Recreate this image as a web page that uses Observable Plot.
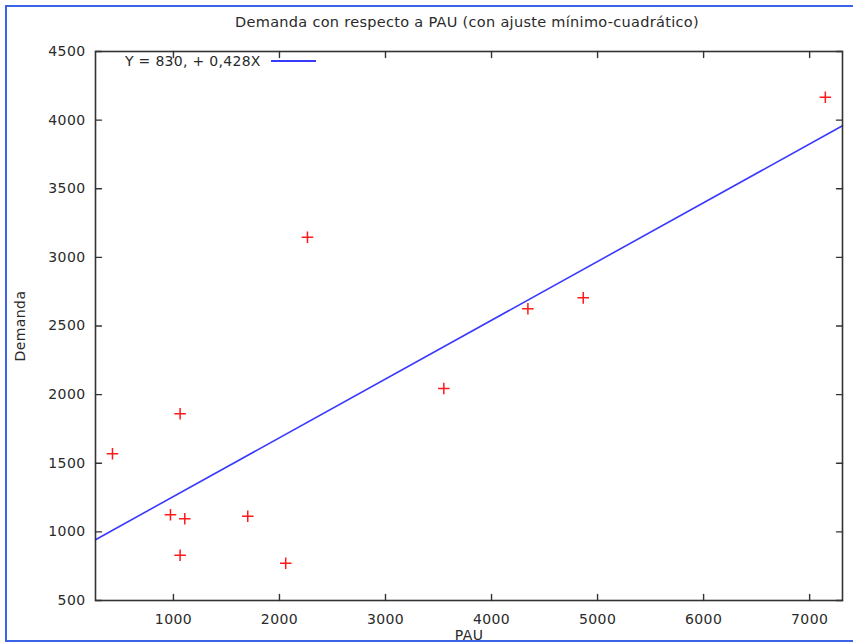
<!DOCTYPE html>
<html>
<head>
<meta charset="utf-8">
<script src="https://cdn.jsdelivr.net/npm/d3@7"></script>
<script src="https://cdn.jsdelivr.net/npm/@observablehq/plot@0.6"></script>
<style>
  html, body { margin: 0; padding: 0; background: #fff; }
  #wrap { position: relative; width: 853px; height: 642px; overflow: hidden; font-family: "DejaVu Sans", sans-serif; color: #2a2a2a; }
  #title { position: absolute; top: 14px; left: 0; width: 934px; text-align: center; font-size: 14.5px; letter-spacing: 0.3px; }
  #legend { position: absolute; top: 53px; left: 125px; font-size: 14px; letter-spacing: 0.3px; display: flex; align-items: center; }
  #legend .sw { display: inline-block; width: 45px; height: 2px; background: #3a3aff; margin-left: 10px; }
  .bd { position: absolute; background: #3a63e8; }
  #chart text { letter-spacing: 0.4px; }
</style>
</head>
<body>
<div id="wrap">
  <div id="chart"></div>
  <div id="title">Demanda con respecto a PAU (con ajuste mínimo-cuadrático)</div>
  <div id="legend"><span id="eq"></span><span class="sw"></span></div>
  <div class="bd" style="left:5px;top:5px;width:848px;height:2px"></div>
  <div class="bd" style="left:5px;top:5px;width:2px;height:637px"></div>
  <div class="bd" style="left:5px;top:640px;width:848px;height:2px"></div>
</div>
<script>
const pau      = [425, 1063, 972, 1107, 1063, 1701, 2059, 2264, 3550, 4343, 4865, 7148];
const demanda  = [1569, 1860, 1124, 1095, 830, 1114, 772, 3147, 2045, 2625, 2705, 4167];
// Least-squares fit line end points
const fitPau     = [265, 7310];
const fitDemanda = [943, 3959];
// Axis ticks
const xTicks = [1000, 2000, 3000, 4000, 5000, 6000, 7000];
const yTicks = [500, 1000, 1500, 2000, 2500, 3000, 3500, 4000, 4500];
const equationLabel = "Y = 830, + 0,428X";

document.getElementById("eq").textContent = equationLabel;

const points = pau.map((x, i) => ({x, y: demanda[i]}));
const fit = fitPau.map((x, i) => ({x, y: fitDemanda[i]}));

const tickShape = {draw(context, l) { context.moveTo(0, 0); context.lineTo(0, -l); }};
const tickStyle = {length: 6, anchor: "start", shape: tickShape, stroke: "#333", strokeWidth: 1.4};

const chart = Plot.plot({
  width: 853,
  height: 642,
  marginLeft: 95,
  marginRight: 11,
  marginTop: 51,
  marginBottom: 42,
  style: {background: "transparent", fontSize: "14px", fontFamily: "DejaVu Sans, sans-serif", color: "#2a2a2a"},
  x: {domain: [265, 7310]},
  y: {domain: [500, 4500]},
  marks: [
    Plot.line(fit, {x: "x", y: "y", stroke: "#3a3aff", strokeWidth: 1.6}),
    Plot.dot(points, {x: "x", y: "y", symbol: "plus", r: 3.8, stroke: "#ff1a1a", strokeWidth: 1.5}),
    Plot.frame({stroke: "#333", strokeWidth: 1.6}),
    // inward ticks on all four sides
    Plot.vector(xTicks, {x: d => d, frameAnchor: "bottom", rotate: 0, ...tickStyle}),
    Plot.vector(xTicks, {x: d => d, frameAnchor: "top", rotate: 180, ...tickStyle}),
    Plot.vector(yTicks, {y: d => d, frameAnchor: "left", rotate: 90, ...tickStyle}),
    Plot.vector(yTicks, {y: d => d, frameAnchor: "right", rotate: -90, ...tickStyle}),
    Plot.axisX({anchor: "bottom", ticks: xTicks, tickSize: 0, tickPadding: 14, tickFormat: "d", label: "PAU", labelAnchor: "center", labelArrow: "none", labelOffset: 39, fontSize: 14}),
    Plot.axisY({anchor: "left", ticks: yTicks, tickSize: 0, tickPadding: 10, tickFormat: "d", label: "Demanda", labelAnchor: "center", labelArrow: "none", labelOffset: 80, fontSize: 14})
  ]
});
document.getElementById("chart").appendChild(chart);
</script>
</body>
</html>
